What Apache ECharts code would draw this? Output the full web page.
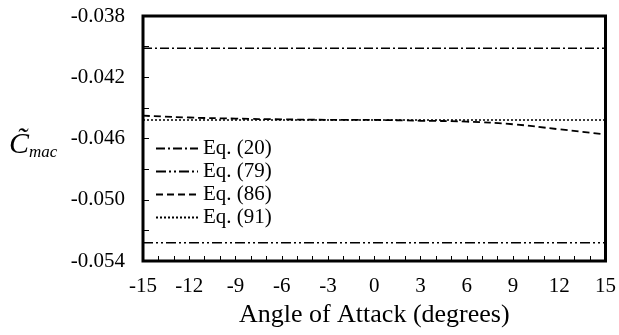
<!DOCTYPE html>
<html><head><meta charset="utf-8">
<script src="https://cdn.jsdelivr.net/npm/echarts@6/dist/echarts.min.js"></script>
<style>html,body{margin:0;padding:0;background:#fff}#c{width:619px;height:335px}</style>
</head><body><div id="c"></div>
<script>
var angles = [-15, -12, -9, -6, -3, 0, 3, 6, 9, 12, 15];
var eq20 = [-0.0401, -0.0401, -0.0401, -0.0401, -0.0401, -0.0401, -0.0401, -0.0401, -0.0401, -0.0401, -0.0401];
var eq79 = [-0.0528, -0.0528, -0.0528, -0.0528, -0.0528, -0.0528, -0.0528, -0.0528, -0.0528, -0.0528, -0.0528];
var eq86 = [-0.04451, -0.04463, -0.0447, -0.04475, -0.04478, -0.04479, -0.04484, -0.0449, -0.04507, -0.0454, -0.04573];
var eq91 = [-0.04479, -0.04479, -0.04479, -0.04479, -0.04479, -0.04479, -0.04479, -0.04479, -0.04479, -0.04479, -0.04479];
var seriesNames = ['Eq. (20)', 'Eq. (79)', 'Eq. (86)', 'Eq. (91)'];
var yTickLabels = ['-0.054', '-0.050', '-0.046', '-0.042', '-0.038'];
var xTickLabels = ['-15', '-12', '-9', '-6', '-3', '0', '3', '6', '9', '12', '15'];

var font = '"Liberation Serif", "Times New Roman", serif';
function pairs(ys){ return angles.map(function(a,i){ return [a, ys[i]]; }); }
var styles = [[9,3,2,3],[10,3,2,3,2,3],[7,4],[2,2]];
var datas = [eq20, eq79, eq86, eq91];
var series = datas.map(function(d,i){
  return {name: seriesNames[i], type:'line', data: pairs(d), symbol:'none', smooth: i===2,
    lineStyle:{color:'#000', width: i===2?1.8:1.5, type: styles[i]}, itemStyle:{color:'#000'}};
});
var chart = echarts.init(document.getElementById('c'));
chart.setOption({
  animation:false,
  grid:{left:143, right:11, top:16, bottom:74, show:true, borderColor:'#000', borderWidth:3, backgroundColor:'transparent'},
  legend:{orient:'vertical', left:150, top:133, itemWidth:42, itemHeight:14, itemGap:2,
    itemStyle:{color:'rgba(0,0,0,0)', borderColor:'rgba(0,0,0,0)', borderWidth:0},
    textStyle:{fontFamily:font, fontSize:21, lineHeight:21, color:'#000'}, data: seriesNames},
  xAxis:{type:'value', min:-15, max:15, interval:1,
    axisLine:{show:false, onZero:false}, splitLine:{show:false},
    axisTick:{show:true, inside:true, length:5, lineStyle:{color:'#000', width:1}},
    axisLabel:{margin:15, fontFamily:font, fontSize:21, color:'#000',
      formatter:function(v){ var s=String(Math.round(v)); return xTickLabels.indexOf(s)>=0 ? s : ''; }},
    name:'Angle of Attack (degrees)', nameLocation:'middle', nameGap:40,
    nameTextStyle:{fontFamily:font, fontSize:26, color:'#000'}},
  yAxis:{type:'value', min:-0.054, max:-0.038, interval:0.002,
    axisLine:{show:false, onZero:false}, splitLine:{show:false},
    axisTick:{show:true, inside:true, length:6, lineStyle:{color:'#000', width:1}},
    axisLabel:{margin:18, fontFamily:font, fontSize:21, color:'#000',
      formatter:function(v){ var s=v.toFixed(3); return yTickLabels.indexOf(s)>=0 ? s : ''; }}},
  graphic:[{type:'text', left:9, top:130, style:{
    text:'{c|C\u0303}{s|mac}', rich:{
      c:{fontFamily:font, fontStyle:'italic', fontSize:30, fill:'#000'},
      s:{fontFamily:font, fontStyle:'italic', fontSize:17, fill:'#000', verticalAlign:'bottom', padding:[15,0,0,0]}
    }}}],
  series: series
});
</script></body></html>
